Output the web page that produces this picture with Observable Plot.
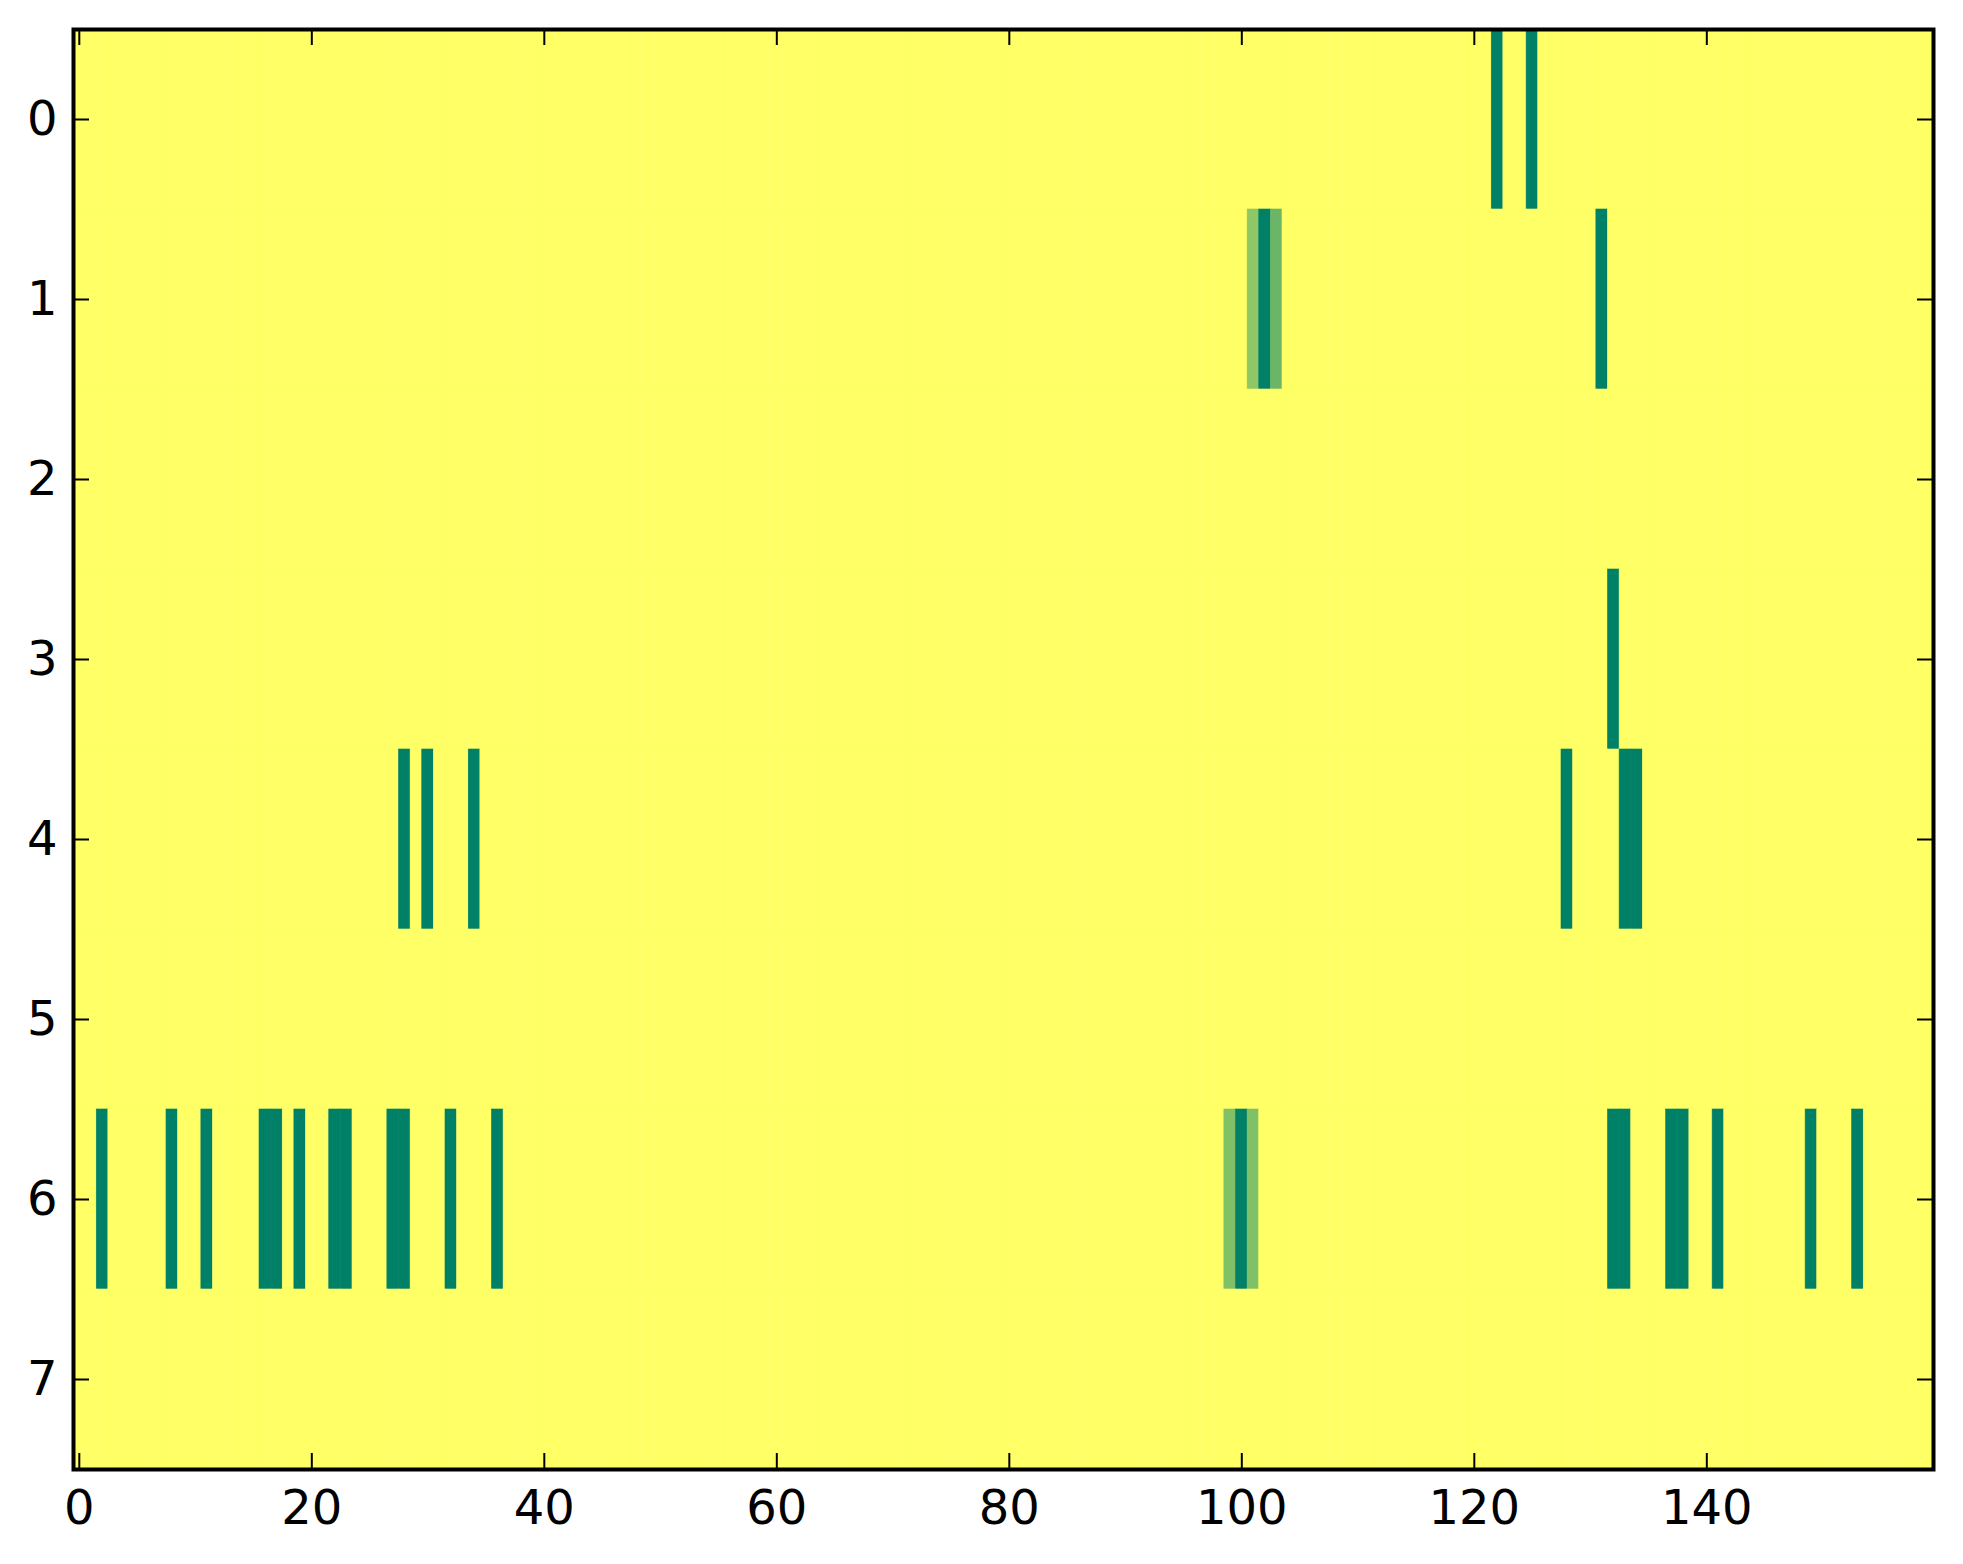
<!DOCTYPE html>
<html>
<head>
<meta charset="utf-8">
<script src="https://cdn.jsdelivr.net/npm/d3@7"></script>
<script src="https://cdn.jsdelivr.net/npm/@observablehq/plot@0.6"></script>
<style>
  html, body { margin: 0; padding: 0; background: #ffffff; }
  #chart { width: 1963px; height: 1564px; }
</style>
</head>
<body>
<div id="chart"></div>
<script>
// Grid size
const nRows = 8;
const nCols = 160;

// Non-zero cells (row, column, value); every other cell is 0
const hotRows   = [0, 0,   1, 1, 1, 1,   3,   4, 4, 4, 4, 4, 4,
                   6, 6, 6, 6, 6, 6, 6, 6, 6, 6, 6, 6, 6, 6, 6, 6, 6, 6, 6, 6, 6, 6];
const hotCols   = [122, 125,   101, 102, 103, 131,   132,   28, 30, 34, 128, 133, 134,
                   2, 8, 11, 16, 17, 19, 22, 23, 27, 28, 32, 36, 99, 100, 101, 132, 133, 137, 138, 141, 149, 153];
const hotValues = [1, 1,   0.44, 1, 0.58, 1,   1,   1, 1, 1, 1, 1, 1,
                   1, 1, 1, 1, 1, 1, 1, 1, 1, 1, 1, 1, 0.5, 1, 0.5, 1, 1, 1, 1, 1, 1, 1];

// Tick labels
const xTicks = [0, 20, 40, 60, 80, 100, 120, 140];
const yTicks = [0, 1, 2, 3, 4, 5, 6, 7];

// Build full matrix table
const lookup = new Map();
hotRows.forEach((r, i) => lookup.set(r + "," + hotCols[i], hotValues[i]));
const cells = [];
for (let r = 0; r < nRows; r++) {
  for (let c = 0; c < nCols; c++) {
    cells.push({row: r, col: c, v: lookup.get(r + "," + c) ?? 0});
  }
}

const W = 1963, H = 1564;
const mL = 73, mR = 30, mT = 29, mB = 95;
const plotW = W - mL - mR, plotH = H - mT - mB;
const tickLen = 16;

const chart = Plot.plot({
  width: W,
  height: H,
  marginLeft: mL,
  marginRight: mR,
  marginTop: mT,
  marginBottom: mB,
  style: {fontFamily: "DejaVu Sans", fontSize: "48px", background: "white", color: "black", overflow: "visible"},
  x: {domain: [-0.5, nCols - 0.5], label: null},
  y: {domain: [-0.5, nRows - 0.5], reverse: true, label: null},
  color: {type: "linear", domain: [0, 1], range: ["#ffff66", "#008066"], interpolate: "rgb"},
  marks: [
    Plot.rect(cells, {
      x1: d => d.col - 0.5, x2: d => d.col + 0.5,
      y1: d => d.row - 0.5, y2: d => d.row + 0.5,
      fill: "v", stroke: "v", strokeWidth: 0.6
    }),
    // inward ticks on all four sides
    Plot.tickX(xTicks, {x: d => d, insetTop: plotH - tickLen, stroke: "black", strokeWidth: 2}),
    Plot.tickX(xTicks, {x: d => d, insetBottom: plotH - tickLen, stroke: "black", strokeWidth: 2}),
    Plot.tickY(yTicks, {y: d => d, insetRight: plotW - tickLen, stroke: "black", strokeWidth: 2}),
    Plot.tickY(yTicks, {y: d => d, insetLeft: plotW - tickLen, stroke: "black", strokeWidth: 2}),
    Plot.axisX({ticks: xTicks, tickSize: 0, tickPadding: 20, tickFormat: d => String(d), fontSize: 48}),
    Plot.axisY({ticks: yTicks, tickSize: 0, tickPadding: 16, tickFormat: d => String(d), fontSize: 48}),
    Plot.frame({stroke: "black", strokeWidth: 4})
  ]
});
document.getElementById("chart").appendChild(chart);
</script>
</body>
</html>
